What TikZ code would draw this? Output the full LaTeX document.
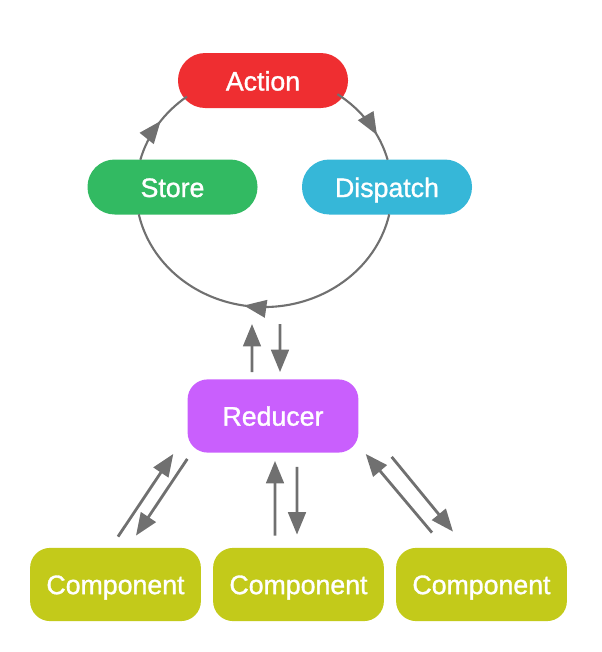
\documentclass[tikz,border=0pt]{standalone}
\usepackage{fontspec}
\setmainfont{Liberation Sans}
\newfontfamily\labelfont{Liberation Sans}[FakeBold=1.2]
\usetikzlibrary{arrows.meta,decorations.markings}
\definecolor{actred}{RGB}{239,46,49}
\definecolor{storegreen}{RGB}{50,186,98}
\definecolor{dispblue}{RGB}{54,183,216}
\definecolor{redpurple}{RGB}{201,95,253}
\definecolor{compyellow}{RGB}{195,202,26}
\definecolor{linegray}{RGB}{112,112,112}
\begin{document}
\begin{tikzpicture}
    \tikzset{pill/.style = {minimum width = 4.25cm,minimum height = 1.375cm,rounded corners = 0.68cm,inner sep = 0pt,text height=0.5cm,text depth=0pt,text=white,font=\labelfont\fontsize{19}{21}\selectfont}, block/.style = {minimum width = 4.27cm,minimum height = 1.83cm,rounded corners = 0.5cm,inner sep = 0pt,text height=0.48cm,text depth=0pt,text=white,font=\labelfont\fontsize{19}{21}\selectfont}, edge/.style = {draw=linegray,line width=2pt,-{Triangle[length=5.6mm,width=4.4mm]}}, ring/.style = {draw=linegray,line width=1.5pt,postaction={decorate},decoration={markings,mark=at position #1 with {\arrow{Triangle[length=5.6mm,width=4.4mm]}}}}}
    \def\x{6.6}
    \def\y{-4.75}
    \useasboundingbox (0,0) rectangle (15.025,-16.3);
     \node[pill,fill=actred] (A) at (\x-0.025,\y+2.7375) {Action};
     \node[pill,fill=storegreen] (S) at (\x-2.2875,\y+0.075) {Store};
     \node[pill,fill=dispblue] (D) at (\x+3.075,\y+0.075) {Dispatch};
     \node[block,fill=redpurple] (R) at (\x+0.225,\y-5.65) {Reducer};
     \node[block,fill=compyellow] (C1) at (\x-3.7125,\y-9.8625) {Component};
     \node[block,fill=compyellow] (C2) at (\x+0.8625,\y-9.8625) {Component};
     \node[block,fill=compyellow] (C3) at (\x+5.4375,\y-9.8625) {Component};

     \coordinate (O) at (\x,\y);
     \coordinate (B) at (\x,\y-2.925);
     \path (O) ++(55:3.2 and 2.925) coordinate (a1);
     \path (O) ++(-12:3.2 and 2.925) coordinate (d1);
     \path (O) ++(165:3.2 and 2.925) coordinate (s1);

    \draw[ring=0.68] (a1) arc[start angle=55,end angle=15,x radius=3.2,y radius=2.925];
    \draw[ring=0.56] (d1) arc[start angle=-12,end angle=-168,x radius=3.2,y radius=2.925];
    \draw[ring=0.55] (s1) arc[start angle=165,end angle=127,x radius=3.2,y radius=2.925];

    \draw[edge]([xshift=-0.525cm,yshift=0.175cm]R.north) -- ([xshift=-0.3cm,yshift=-0.425cm]B);
    \draw[edge]([xshift=0.4cm,yshift=-0.425cm]B) -- ([xshift=0.175cm,yshift=0.175cm]R.north);

    \draw[edge]([xshift=0.0625cm,yshift=0.275cm]C1.north) -- ([xshift=-0.35cm,yshift=-0.025cm]R.south west);
    \draw[edge]([yshift=-0.15cm]R.south west) -- ([xshift=0.5125cm,yshift=0.3cm]C1.north);
    \draw[edge]([xshift=-0.5875cm,yshift=0.3cm]C2.north) -- ([xshift=0.05cm,yshift=-0.2cm]R.south);
    \draw[edge]([xshift=0.6cm,yshift=-0.35cm]R.south) -- ([xshift=-0.0375cm,yshift=0.325cm]C2.north);
    \draw[edge]([xshift=-1.2375cm,yshift=0.375cm]C3.north) -- ([xshift=0.175cm,yshift=-0.025cm]R.south east);
    \draw[edge]([xshift=0.825cm,yshift=-0.1cm]R.south east) -- ([xshift=-0.7125cm,yshift=0.4cm]C3.north);
\end{tikzpicture}
\end{document}
